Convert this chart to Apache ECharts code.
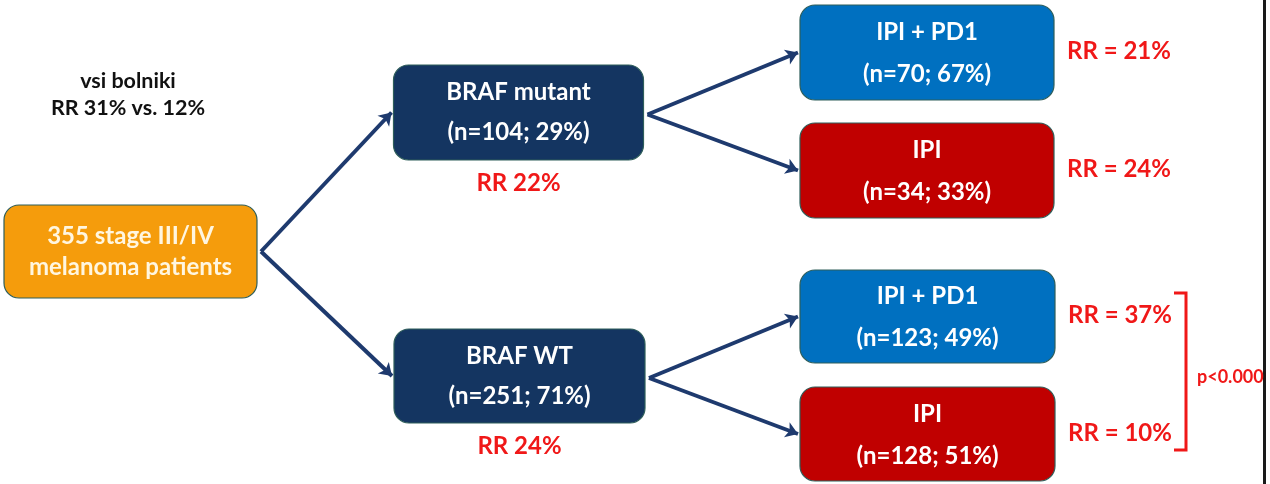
<!DOCTYPE html>
<html>
<head>
<meta charset="utf-8">
<script src="https://cdn.jsdelivr.net/npm/echarts@6/dist/echarts.min.js"></script>
<style>
  html, body { margin: 0; padding: 0; background: #ffffff; overflow: hidden; }
  #chart { width: 1270px; height: 484px; }
</style>
</head>
<body>
<div id="chart"></div>
<script>
// data
const nodeNames = ['355 stage III/IV\nmelanoma patients', 'BRAF mutant', 'BRAF WT', 'IPI + PD1', 'IPI', 'IPI + PD1', 'IPI'];
const nodeCounts = [355, 104, 251, 70, 34, 123, 128];
const nodeShares = [null, 29, 71, 67, 33, 49, 51];
const responseRates = [null, 22, 24, 21, 24, 37, 10];
const overallRR = [31, 12];
const links = [[0, 1], [0, 2], [1, 3], [1, 4], [2, 5], [2, 6]];
const pValueText = 'p<0.000';

// layout (slide pixels): box centre, size, fill
const layout = [
  { cx: 130.5, cy: 251.5, w: 253, h: 93, fill: '#F59C0C', text: '#FFF6E0', size: 24, gap: 15.5 },
  { cx: 518.5, cy: 112.5, w: 250, h: 95, fill: '#143561' },
  { cx: 519.5, cy: 376, w: 251, h: 94, fill: '#143561' },
  { cx: 927, cy: 52.5, w: 254, h: 95, fill: '#0070C0' },
  { cx: 927, cy: 170.5, w: 254, h: 95, fill: '#C00000' },
  { cx: 927.5, cy: 316.5, w: 255, h: 93, fill: '#0070C0' },
  { cx: 927.5, cy: 434, w: 255, h: 94, fill: '#C00000' }
];
const EDGE_X = 1264.5; // right edge of the slide frame

const FONT = 'Lato, "Open Sans", sans-serif';
const RED = '#F01818';
const NAVY = '#1E3A6E';

// free text outside the boxes
const notes = [
  { x: 128, y: 81, text: 'vsi bolniki', color: '#111111', size: 21.5, align: 'center' },
  { x: 128, y: 108, text: 'RR ' + overallRR[0] + '% vs. ' + overallRR[1] + '%', color: '#111111', size: 21.5, align: 'center' },
  { x: 1197, y: 377, text: pValueText, color: RED, size: 18, align: 'left' }
];

function boxLines(i) {
  if (nodeShares[i] == null) return nodeNames[i].split('\n');
  return [nodeNames[i], '(n=' + nodeCounts[i] + '; ' + nodeShares[i] + '%)'];
}

function rrText(i) {
  return i <= 2 ? 'RR ' + responseRates[i] + '%' : 'RR = ' + responseRates[i] + '%';
}

const boxData = layout.map((b, i) => [b.cx, b.cy, b.w, b.h, i]);

const arrowData = links.map(([s, t]) => {
  const a = layout[s], b = layout[t];
  return { coords: [[a.cx + a.w / 2 + 4, a.cy + (s === 0 ? 0 : 2)], [b.cx - b.w / 2 - 2, b.cy]] };
});

const chart = echarts.init(document.getElementById('chart'));

chart.setOption({
  animation: false,
  grid: { left: 0, right: 0, top: 0, bottom: 0 },
  xAxis: { type: 'value', min: 0, max: 1270, show: false },
  yAxis: { type: 'value', min: 0, max: 484, inverse: true, show: false },
  series: [
    {
      type: 'lines',
      coordinateSystem: 'cartesian2d',
      symbol: ['none', 'arrow'],
      symbolSize: 12,
      lineStyle: { color: NAVY, width: 4, opacity: 1 },
      data: arrowData,
      z: 2
    },
    {
      type: 'custom',
      z: 3,
      data: boxData,
      renderItem(params, api) {
        const i = api.value(4);
        const b = layout[i];
        const p0 = api.coord([api.value(0) - api.value(2) / 2, api.value(1) - api.value(3) / 2]);
        const p1 = api.coord([api.value(0) + api.value(2) / 2, api.value(1) + api.value(3) / 2]);
        const c = api.coord([api.value(0), api.value(1)]);
        const lines = boxLines(i);
        const gap = b.gap || 20;
        const children = [
          {
            type: 'rect',
            shape: { x: p0[0], y: p0[1], width: p1[0] - p0[0], height: p1[1] - p0[1], r: 15 },
            style: { fill: b.fill, stroke: '#2E5E5A', lineWidth: 1.2 }
          }
        ];
        lines.forEach((t, k) => {
          children.push({
            type: 'text',
            style: {
              text: t, x: c[0], y: c[1] + (k === 0 ? -gap : gap + (i > 2 ? 2 : 0)),
              align: 'center', verticalAlign: 'middle',
              fill: b.text || '#ffffff', font: 'bold ' + (b.size || 24) + 'px ' + FONT
            }
          });
        });
        if (responseRates[i] != null) {
          const below = i <= 2;
          children.push({
            type: 'text',
            style: {
              text: rrText(i),
              x: below ? c[0] : p1[0] + 13,
              y: below ? p1[1] + 23 : c[1] - 1,
              align: below ? 'center' : 'left', verticalAlign: 'middle',
              fill: RED, font: 'bold 24px ' + FONT
            }
          });
        }
        if (i === 0) {
          // frame edge drawn together with the first box
          const e0 = api.coord([EDGE_X, 0]);
          const e1 = api.coord([EDGE_X, 484]);
          children.push({
            type: 'line',
            shape: { x1: e0[0], y1: e0[1], x2: e1[0], y2: e1[1] },
            style: { stroke: '#1a1a1a', lineWidth: 3 }
          });
        }
        return { type: 'group', children };
      }
    },
    {
      type: 'custom',
      z: 4,
      data: notes.map((n, i) => [n.x, n.y, i]),
      renderItem(params, api) {
        const n = notes[api.value(2)];
        const p = api.coord([api.value(0), api.value(1)]);
        return {
          type: 'text',
          style: {
            text: n.text, x: p[0], y: p[1], align: n.align, verticalAlign: 'middle',
            fill: n.color, font: 'bold ' + n.size + 'px ' + FONT
          }
        };
      }
    },
    {
      // significance bracket
      type: 'lines',
      coordinateSystem: 'cartesian2d',
      polyline: true,
      symbol: 'none',
      lineStyle: { color: RED, width: 3, opacity: 1 },
      data: [{ coords: [[1174, 293], [1186, 293], [1186, 450], [1174, 450]] }],
      z: 2
    }
  ]
});
</script>
</body>
</html>
